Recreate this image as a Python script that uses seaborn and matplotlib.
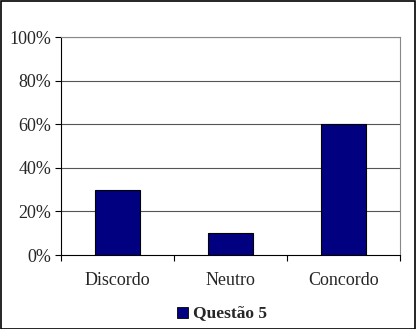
import matplotlib
matplotlib.use("Agg")
import matplotlib.pyplot as plt
import seaborn as sns
import pandas as pd
from matplotlib.patches import Rectangle
from matplotlib.ticker import FuncFormatter

categories = ["Discordo", "Neutro", "Concordo"]
values = [30, 10, 60]
series_name = "Questão 5"

df = pd.DataFrame({"categoria": categories, "valor": values})

sns.set_theme(style="white")
plt.rcParams["font.family"] = ["Liberation Serif", "DejaVu Serif"]

fig = plt.figure(figsize=(4.16, 3.29), dpi=100)
ax = fig.add_axes([61 / 416, 1 - 255 / 329, 339 / 416, 218 / 329])

sns.barplot(data=df, x="categoria", y="valor", ax=ax, color="#000080",
            width=0.4, edgecolor="black", linewidth=0.8, saturation=1)

ax.set_ylim(0, 100)
ax.set_xlim(-0.5, 2.5)
ax.set_yticks(range(0, 101, 20))
ax.yaxis.set_major_formatter(FuncFormatter(lambda v, p: f"{int(v)}%"))
ax.set_xlabel("")
ax.set_ylabel("")
for y in range(20, 101, 20):
    ax.axhline(y, color="#555555", linewidth=0.8, zorder=0)

ax.set_xticks([0, 1, 2])
ax.set_xticks([-0.5, 0.5, 1.5, 2.5], minor=True)
ax.tick_params(axis="x", which="major", length=0, labelsize=13, pad=12)
ax.tick_params(axis="x", which="minor", length=4, width=0.8, color="black",
               direction="out", bottom=True)
ax.tick_params(axis="y", length=4, width=0.8, color="black", direction="out",
               left=True, labelsize=13, pad=3)

for side in ["top", "right"]:
    ax.spines[side].set_color("#888888")
    ax.spines[side].set_linewidth(0.8)
for side in ["left", "bottom"]:
    ax.spines[side].set_color("black")
    ax.spines[side].set_linewidth(0.8)

# legend
fig.text(193 / 416, 1 - 313 / 329, series_name, ha="left", va="center",
         fontsize=12.5, fontweight="bold")
fig.patches.append(Rectangle((177 / 416, 1 - 318 / 329), 11 / 416, 11 / 329,
                             transform=fig.transFigure, facecolor="#000080",
                             edgecolor="black", linewidth=0.6))

# outer frame
fig.patches.append(Rectangle((0.5 / 416, 0.5 / 329), 414.5 / 416, 327.5 / 329,
                             transform=fig.transFigure, fill=False,
                             edgecolor="black", linewidth=1.2))

fig.savefig("out.png", dpi=100)
